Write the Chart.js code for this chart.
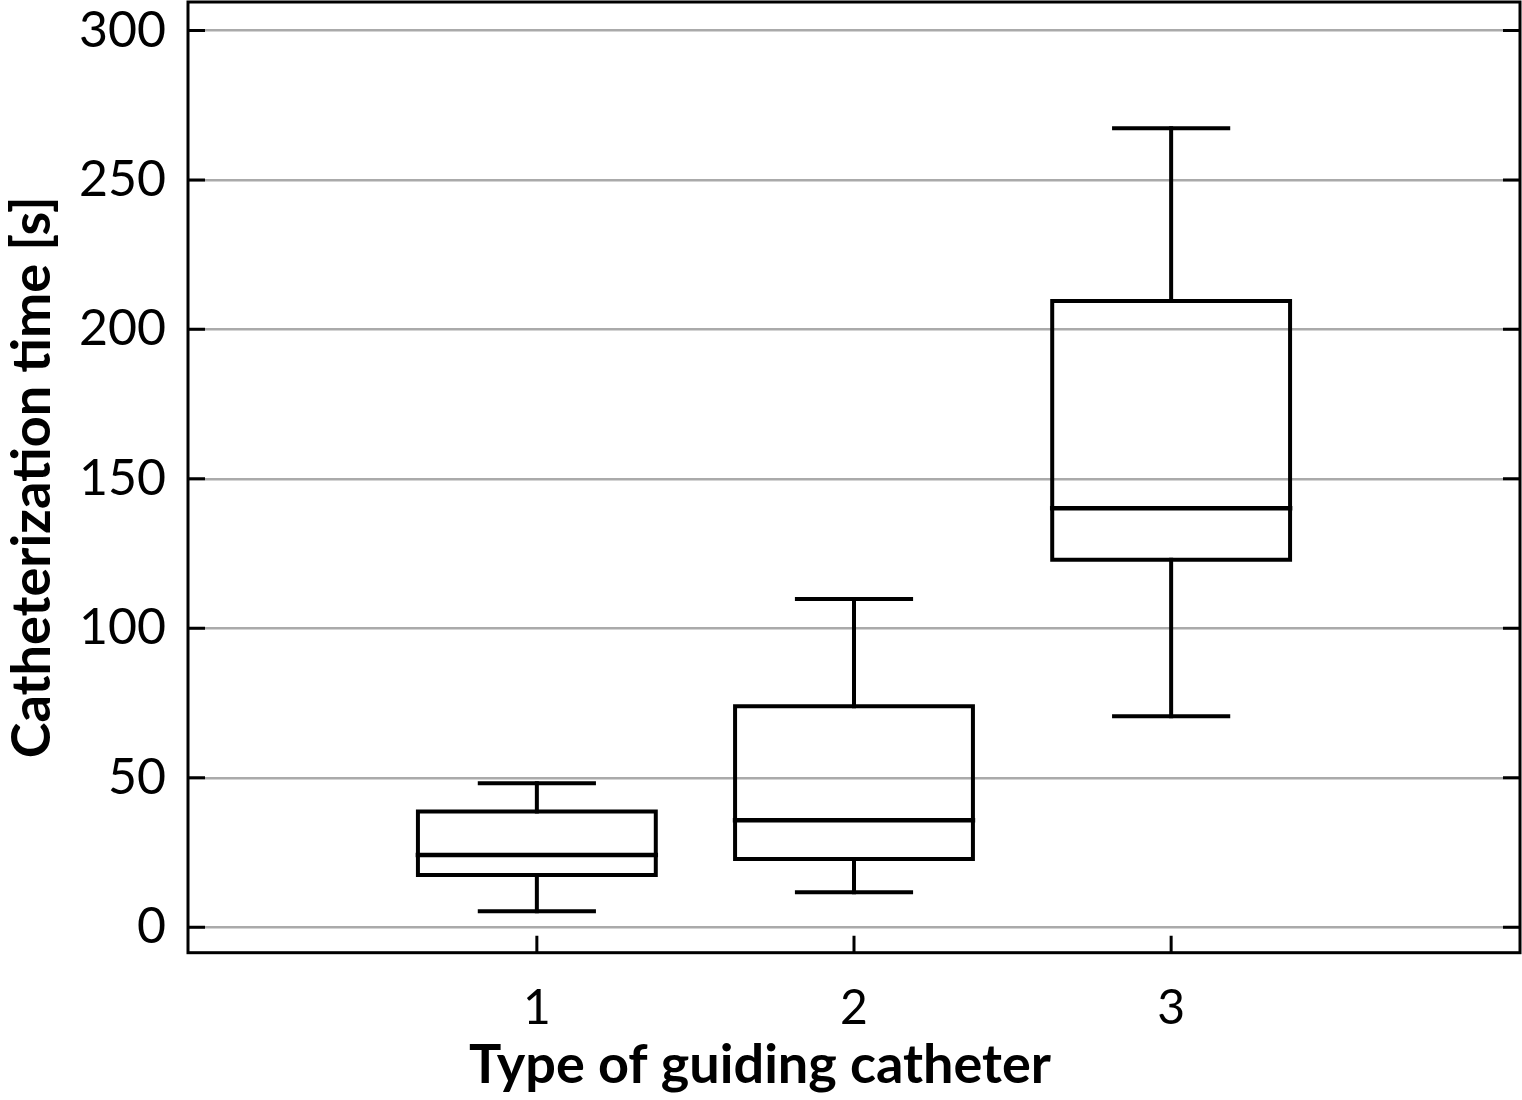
<!DOCTYPE html>
<html>
<head>
<meta charset="utf-8">
<script src="https://cdn.jsdelivr.net/npm/chart.js@4.4.1/dist/chart.umd.min.js"></script>
<style>
  html, body { margin: 0; padding: 0; background: #ffffff; }
  #wrap { width: 1522px; height: 1100px; }
</style>
</head>
<body>
<div id="wrap"><canvas id="c" width="1522" height="1100"></canvas></div>
<script>
// ---- data ----
const categories   = [1, 2, 3];
const whiskerLow   = [5.4, 11.7, 70.6];
const q1           = [17.5, 22.8, 122.9];
const median       = [24.2, 35.8, 140.2];
const q3           = [38.7, 73.9, 209.5];
const whiskerHigh  = [48.2, 109.8, 267.3];
const yTickValues  = [0, 50, 100, 150, 200, 250, 300];
const xTickValues  = [1, 2, 3];
const xTickLabels  = ['1', '2', '3'];
const yTitle = 'Catheterization time [s]';
const xTitle = 'Type of guiding catheter';

// ---- style constants ----
const BOX_HALF = 0.375;
const CAP_HALF = 0.18;
const FONT = 'Lato, "Open Sans", "DejaVu Sans", sans-serif';

// ---- build line segments from data ----
const gap = x => ({ x: x, y: null });
const boxPts = [], medPts = [], whiskPts = [], capPts = [];
categories.forEach((c, i) => {
  boxPts.push({x: c - BOX_HALF, y: q1[i]}, {x: c + BOX_HALF, y: q1[i]},
              {x: c + BOX_HALF, y: q3[i]}, {x: c - BOX_HALF, y: q3[i]},
              {x: c - BOX_HALF, y: q1[i]}, gap(c));
  medPts.push({x: c - BOX_HALF, y: median[i]}, {x: c + BOX_HALF, y: median[i]}, gap(c));
  whiskPts.push({x: c, y: q3[i]}, {x: c, y: whiskerHigh[i]}, gap(c),
                {x: c, y: q1[i]}, {x: c, y: whiskerLow[i]}, gap(c));
  capPts.push({x: c - CAP_HALF, y: whiskerHigh[i]}, {x: c + CAP_HALF, y: whiskerHigh[i]}, gap(c),
              {x: c - CAP_HALF, y: whiskerLow[i]}, {x: c + CAP_HALF, y: whiskerLow[i]}, gap(c));
});

const seg = (label, data, w) => ({
  label, data, borderColor: '#000', backgroundColor: '#000', borderWidth: w,
  pointRadius: 0, pointHoverRadius: 0, fill: false, tension: 0, spanGaps: false,
  borderJoinStyle: 'miter', borderCapStyle: 'square'
});

const framePlugin = {
  id: 'frameTicks',
  afterDraw(chart) {
    const {ctx, chartArea: a, scales} = chart;
    ctx.save();
    ctx.strokeStyle = '#000';
    ctx.lineWidth = 3;
    const L = 17;
    ctx.beginPath();
    scales.y.ticks.forEach(t => {
      const py = scales.y.getPixelForValue(t.value);
      ctx.moveTo(a.left, py); ctx.lineTo(a.left + L, py);
      ctx.moveTo(a.right - L, py); ctx.lineTo(a.right, py);
    });
    scales.x.ticks.forEach(t => {
      const px = scales.x.getPixelForValue(t.value);
      ctx.moveTo(px, a.bottom); ctx.lineTo(px, a.bottom - L);
    });
    ctx.stroke();
    ctx.strokeRect(a.left, a.top, a.right - a.left, a.bottom - a.top);
    ctx.restore();
  }
};

new Chart(document.getElementById('c'), {
  type: 'line',
  data: {
    datasets: [
      seg('box', boxPts, 4),
      seg('median', medPts, 4.5),
      seg('whisker', whiskPts, 4),
      seg('cap', capPts, 4)
    ]
  },
  options: {
    responsive: false,
    animation: false,
    events: [],
    layout: { padding: { top: 2, right: 2, left: 0, bottom: 0 } },
    plugins: {
      legend: { display: false },
      tooltip: { enabled: false },
      title: {
        display: true, position: 'bottom', text: xTitle, color: '#000',
        font: { family: FONT, size: 54, weight: 'bold', lineHeight: 1.2 },
        padding: { top: 0, bottom: 2 }
      }
    },
    scales: {
      x: {
        type: 'linear', min: -0.1, max: 4.1,
        afterBuildTicks: s => { s.ticks = xTickValues.map(v => ({ value: v })); },
        afterFit: s => { s.height = 80.5; s.paddingLeft = 0; s.paddingRight = 0; },
        ticks: {
          color: '#000', font: { family: FONT, size: 48 }, padding: 27,
          maxRotation: 0, autoSkip: false,
          callback: (v) => xTickLabels[xTickValues.indexOf(v)]
        },
        grid: { display: false, drawTicks: false },
        border: { display: false }
      },
      y: {
        type: 'linear', min: -8.5, max: 309.5,
        afterBuildTicks: s => { s.ticks = yTickValues.map(v => ({ value: v })); },
        afterFit: s => { s.width = 188; s.paddingTop = 0; s.paddingBottom = 0; },
        ticks: { color: '#000', font: { family: FONT, size: 50 }, padding: 22 },
        grid: { color: '#aaaaaa', lineWidth: 2.5, drawTicks: false },
        border: { display: false },
        title: {
          display: true, text: yTitle, color: '#000',
          font: { family: FONT, size: 54, weight: 'bold', lineHeight: 1.2 },
          padding: { top: 0, bottom: 0 }
        }
      }
    }
  },
  plugins: [framePlugin]
});
</script>
</body>
</html>
